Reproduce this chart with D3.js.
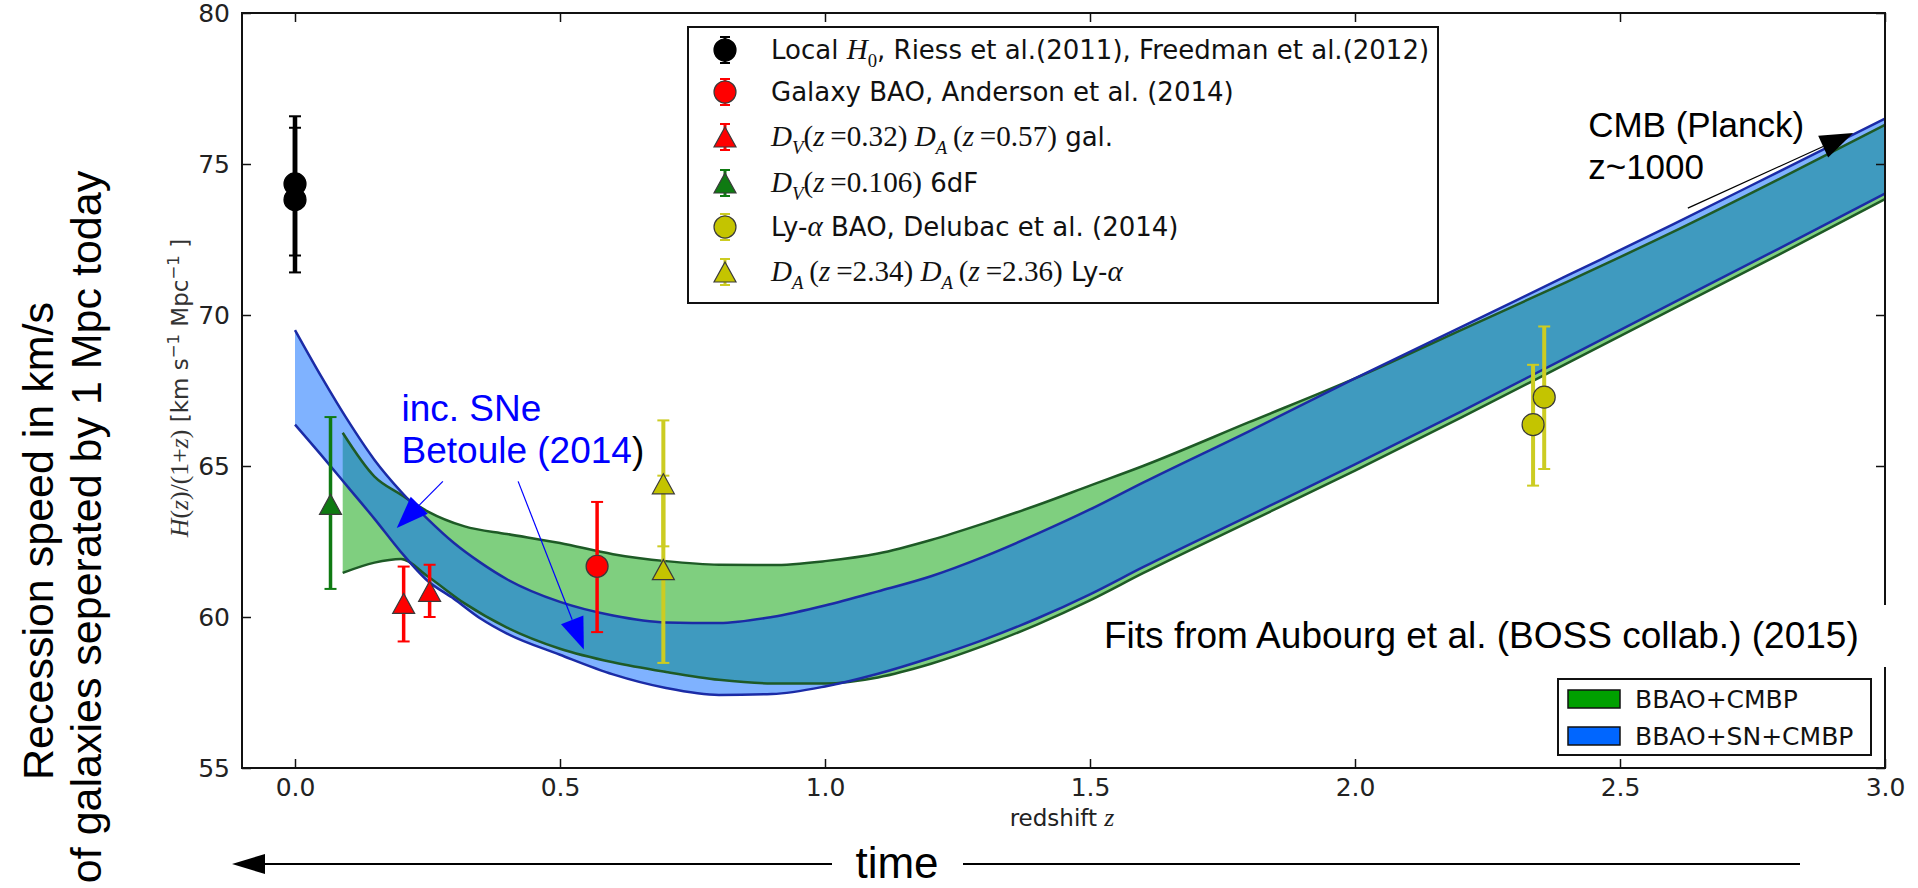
<!DOCTYPE html>
<html>
<head>
<meta charset="utf-8">
<script src="https://cdn.jsdelivr.net/npm/d3@7"></script>
<style>
  html, body { margin: 0; padding: 0; background: #fff; }
  svg { display: block; }
  .tick text { font-family: "DejaVu Sans", sans-serif; font-size: 25px; fill: #222; }
  .tick line { stroke: #111; stroke-width: 1.5; }
</style>
</head>
<body>
<svg id="chart" width="1918" height="888"></svg>
<script>
// fit bands, H(z)/(1+z) upper / lower edge per redshift
var blueZ  = [0, 0.05, 0.1, 0.15, 0.2, 0.25, 0.3, 0.35, 0.4, 0.5, 0.6, 0.7, 0.8, 0.9, 1.0, 1.1, 1.2, 1.3, 1.4, 1.5, 1.6, 1.8, 2.0, 2.2, 2.4, 2.6, 2.8, 3.0];
var blueHi = [69.5, 67.95, 66.5, 65.2, 64.15, 63.25, 62.45, 61.8, 61.25, 60.5, 60.05, 59.82, 59.8, 60.0, 60.38, 60.85, 61.35, 62.0, 62.75, 63.56, 64.45, 66.15, 67.9, 69.6, 71.3, 73.0, 74.75, 76.5];
var blueLo = [66.37, 65.35, 64.3, 63.25, 62.15, 61.2, 60.6, 59.95, 59.45, 58.75, 58.1, 57.65, 57.42, 57.45, 57.7, 58.12, 58.65, 59.25, 59.95, 60.75, 61.65, 63.35, 65.05, 66.8, 68.6, 70.4, 72.2, 74.02];

var greenZ  = [0.09, 0.15, 0.2, 0.25, 0.32, 0.4, 0.5, 0.6, 0.7, 0.8, 0.9, 1.0, 1.1, 1.2, 1.3, 1.4, 1.5, 1.6, 1.8, 2.0, 2.2, 2.4, 2.6, 2.8, 3.0];
var greenHi = [66.1, 64.65, 64.05, 63.5, 63.0, 62.75, 62.45, 62.08, 61.85, 61.73, 61.72, 61.85, 62.1, 62.55, 63.1, 63.7, 64.35, 65.0, 66.45, 67.9, 69.5, 71.1, 72.75, 74.5, 76.3];
var greenLo = [61.46, 61.8, 61.92, 61.35, 60.45, 59.65, 58.95, 58.5, 58.18, 57.92, 57.8, 57.8, 58.0, 58.45, 59.05, 59.75, 60.55, 61.45, 63.15, 64.85, 66.6, 68.4, 70.2, 72.0, 73.84];

// measurements: [z, value, errLow, errHigh]
var localH0   = [[0, 74.34, 71.97, 76.58], [0, 73.82, 71.41, 76.20]];
var galaxyBAO = [[0.57, 61.68, 59.50, 63.81]];
var galaxyDvDa = [[0.205, 60.45, 59.19, 61.67], [0.254, 60.85, 60.00, 61.73]];
var sixdF     = [[0.067, 63.73, 60.93, 66.62]];
var lyaBAO    = [[2.336, 66.37, 64.35, 68.35], [2.357, 67.28, 64.90, 69.62]];
var lyaDa     = [[0.695, 64.41, 62.34, 66.51], [0.695, 61.57, 58.48, 64.68]];

var xTicks = [0, 0.5, 1.0, 1.5, 2.0, 2.5, 3.0];
var yTicks = [55, 60, 65, 70, 75, 80];
var bandNames = ['BBAO+CMBP', 'BBAO+SN+CMBP'];

var svg = d3.select('#chart');
var x = d3.scaleLinear().domain([-0.1, 3.0]).range([242, 1885]);
var y = d3.scaleLinear().domain([55, 80]).range([768, 13]);

var SANS = '"Liberation Sans", Arial, sans-serif';
var MPL = '"DejaVu Sans", sans-serif';
var SERIF = '"Liberation Serif", "DejaVu Serif", serif';

svg.append('rect').attr('width', 1918).attr('height', 888).attr('fill', '#fff');

svg.append('clipPath').attr('id', 'plotclip')
  .append('rect').attr('x', 242).attr('y', 13).attr('width', 1643).attr('height', 755);

var plot = svg.append('g').attr('clip-path', 'url(#plotclip)');

var area = d3.area()
  .x(function(d) { return x(d[0]); })
  .y0(function(d) { return y(d[1]); })
  .y1(function(d) { return y(d[2]); })
  .curve(d3.curveMonotoneX);
var edge = function(i) {
  return d3.line()
    .x(function(d) { return x(d[0]); })
    .y(function(d) { return y(d[i]); })
    .curve(d3.curveMonotoneX);
};

var greenData = d3.zip(greenZ, greenLo, greenHi);
var blueData = d3.zip(blueZ, blueLo, blueHi);

plot.append('path').datum(greenData).attr('d', area)
  .attr('fill', '#00a000').attr('fill-opacity', 0.5);
plot.append('path').datum(blueData).attr('d', area)
  .attr('fill', '#0066ff').attr('fill-opacity', 0.5);
[1, 2].forEach(function(i) {
  plot.append('path').datum(greenData).attr('d', edge(i))
    .attr('fill', 'none').attr('stroke', '#1e5a26').attr('stroke-width', 2.5);
});
[1, 2].forEach(function(i) {
  plot.append('path').datum(blueData).attr('d', edge(i))
    .attr('fill', 'none').attr('stroke', '#1b2ba6').attr('stroke-width', 2.5);
});

// axes
var axB = svg.append('g').attr('transform', 'translate(0,768)')
  .call(d3.axisBottom(x).tickValues(xTicks).tickFormat(d3.format('.1f'))
    .tickSizeInner(-9).tickSizeOuter(0).tickPadding(10));
var axT = svg.append('g').attr('transform', 'translate(0,13)')
  .call(d3.axisTop(x).tickValues(xTicks).tickFormat('').tickSizeInner(-9).tickSizeOuter(0));
var axL = svg.append('g').attr('transform', 'translate(242,0)')
  .call(d3.axisLeft(y).tickValues(yTicks).tickFormat(d3.format('d'))
    .tickSizeInner(-9).tickSizeOuter(0).tickPadding(12));
var axR = svg.append('g').attr('transform', 'translate(1885,0)')
  .call(d3.axisRight(y).tickValues(yTicks).tickFormat('').tickSizeInner(-9).tickSizeOuter(0));
[axB, axT, axL, axR].forEach(function(a) { a.select('.domain').remove(); });

svg.append('rect').attr('x', 242).attr('y', 13).attr('width', 1643).attr('height', 755)
  .attr('fill', 'none').attr('stroke', '#111').attr('stroke-width', 2);

// markers
function triPath(w, h) {
  return 'M0,' + (-h) + 'L' + w + ',' + h + 'L' + (-w) + ',' + h + 'Z';
}
function drawMarker(g, shape, fill, stroke) {
  if (shape === 'circle') {
    g.append('circle').attr('r', 11).attr('fill', fill).attr('stroke', stroke).attr('stroke-width', 1.2);
  } else {
    g.append('path').attr('d', triPath(11, 10)).attr('fill', fill)
      .attr('stroke', stroke).attr('stroke-width', 1.2);
  }
}
function drawSeries(rows, shape, fill, errColor, lw) {
  var g = svg.append('g');
  rows.forEach(function(r) {
    var cx = x(r[0]);
    g.append('line').attr('x1', cx).attr('x2', cx).attr('y1', y(r[2])).attr('y2', y(r[3]))
      .attr('stroke', errColor).attr('stroke-width', lw);
    [r[2], r[3]].forEach(function(v) {
      g.append('line').attr('x1', cx - 6).attr('x2', cx + 6).attr('y1', y(v)).attr('y2', y(v))
        .attr('stroke', errColor).attr('stroke-width', 2);
    });
  });
  rows.forEach(function(r) {
    var m = g.append('g').attr('transform', 'translate(' + x(r[0]) + ',' + y(r[1]) + ')');
    drawMarker(m, shape, fill, fill === '#000' ? '#000' : '#3a3a3a');
  });
}
drawSeries(sixdF, 'tri', '#0f7a12', '#0f7a12', 3.5);
drawSeries(galaxyDvDa, 'tri', '#ff0000', '#ff0000', 3.5);
drawSeries(galaxyBAO, 'circle', '#ff0000', '#ff0000', 3.5);
drawSeries(lyaDa, 'tri', '#c4c400', '#cccc22', 4);
drawSeries(lyaBAO, 'circle', '#c4c400', '#cccc22', 4);
drawSeries(localH0, 'circle', '#000', '#000', 4.5);

// rich text helper: [text, style]  s = sans, i = serif italic, r = serif, sub / subi / sup
function rich(t, parts, base) {
  var shift = 0;
  parts.forEach(function(p) {
    var ts = t.append('tspan').text(p[0]);
    var st = p[1], want = 0;
    if (st === 'i' || st === 'subi') ts.attr('font-family', SERIF).attr('font-style', 'italic');
    if (st === 'r' || st === 'sub') ts.attr('font-family', SERIF);
    if (st === 'i' || st === 'r') ts.attr('font-size', base * 1.12);
    if (st === 'sub' || st === 'subi') { want = base * 0.3; ts.attr('font-size', base * 0.72); }
    if (st === 'sup') { want = -base * 0.4; ts.attr('font-size', base * 0.72); }
    if (want !== shift) { ts.attr('dy', want - shift); shift = want; }
  });
}

// top legend
var legendLabels = [
  [['Local ', 's'], ['H', 'i'], ['0', 'sub'], [', Riess et al.(2011), Freedman et al.(2012)', 's']],
  [['Galaxy BAO, Anderson et al. (2014)', 's']],
  [['D', 'i'], ['V', 'subi'], ['(', 'r'], ['z', 'i'], ['\u2009=0.32) ', 'r'], ['D', 'i'], ['A', 'subi'], ['\u2009(', 'r'], ['z', 'i'], ['\u2009=0.57)', 'r'], [' gal.', 's']],
  [['D', 'i'], ['V', 'subi'], ['(', 'r'], ['z', 'i'], ['\u2009=0.106)', 'r'], [' 6dF', 's']],
  [['Ly-', 's'], ['α', 'i'], [' BAO, Delubac et al. (2014)', 's']],
  [['D', 'i'], ['A', 'subi'], ['\u2009(', 'r'], ['z', 'i'], ['\u2009=2.34) ', 'r'], ['D', 'i'], ['A', 'subi'], ['\u2009(', 'r'], ['z', 'i'], ['\u2009=2.36)', 'r'], [' Ly-', 's'], ['α', 'i']]
];
var legendMarks = [
  ['circle', '#000', '#000'], ['circle', '#ff0000', '#ff0000'], ['tri', '#ff0000', '#ff0000'],
  ['tri', '#0f7a12', '#0f7a12'], ['circle', '#c4c400', '#cccc22'], ['tri', '#c4c400', '#cccc22']
];
var rowY = [50, 92, 137, 183, 227, 272];
var leg = svg.append('g');
leg.append('rect').attr('x', 688).attr('y', 27).attr('width', 750).attr('height', 276)
  .attr('fill', '#fff').attr('stroke', '#111').attr('stroke-width', 2);
legendLabels.forEach(function(lab, i) {
  var cy = rowY[i];
  var mk = legendMarks[i];
  leg.append('line').attr('x1', 725).attr('x2', 725).attr('y1', cy - 13).attr('y2', cy + 13)
    .attr('stroke', mk[2]).attr('stroke-width', 3);
  [cy - 13, cy + 13].forEach(function(v) {
    leg.append('line').attr('x1', 720).attr('x2', 730).attr('y1', v).attr('y2', v)
      .attr('stroke', mk[2]).attr('stroke-width', 2);
  });
  var m = leg.append('g').attr('transform', 'translate(725,' + cy + ')');
  drawMarker(m, mk[0], mk[1], mk[1] === '#000' ? '#000' : '#3a3a3a');
  var t = leg.append('text').attr('x', 771).attr('y', cy + 9)
    .attr('font-family', MPL).attr('font-size', 26).attr('fill', '#111');
  rich(t, lab, 26);
});

// band legend
var bandColors = ['#00a000', '#0066ff'];
var leg2 = svg.append('g');
leg2.append('rect').attr('x', 1558).attr('y', 679).attr('width', 313).attr('height', 76)
  .attr('fill', '#fff').attr('stroke', '#111').attr('stroke-width', 2);
bandNames.forEach(function(name, i) {
  var cy = 699 + i * 37;
  leg2.append('rect').attr('x', 1568).attr('y', cy - 9).attr('width', 52).attr('height', 18)
    .attr('fill', bandColors[i]).attr('stroke', '#111').attr('stroke-width', 1.5);
  leg2.append('text').attr('x', 1635).attr('y', cy + 9).attr('font-family', MPL)
    .attr('font-size', 25).attr('fill', '#111').text(name);
});

// axis labels
var xl = svg.append('text').attr('x', 1062).attr('y', 826).attr('text-anchor', 'middle')
  .attr('font-family', MPL).attr('font-size', 23).attr('fill', '#222');
rich(xl, [['redshift ', 's'], ['z', 'i']], 23);

var yl = svg.append('text').attr('transform', 'translate(188,388) rotate(-90)')
  .attr('text-anchor', 'middle').attr('font-family', MPL).attr('font-size', 23).attr('fill', '#333');
rich(yl, [['H', 'i'], ['(', 'r'], ['z', 'i'], [')/(1+', 'r'], ['z', 'i'], [')', 'r'],
  [' [km s', 's'], ['−1', 'sup'], [' Mpc', 's'], ['−1', 'sup'], [' ]', 's']], 23);

// annotations
function arrow(g, x1, y1, x2, y2, len, wid, color, lw) {
  var dx = x2 - x1, dy = y2 - y1, d = Math.sqrt(dx * dx + dy * dy);
  var ux = dx / d, uy = dy / d;
  var bx = x2 - ux * len, by = y2 - uy * len;
  g.append('line').attr('x1', x1).attr('y1', y1).attr('x2', bx).attr('y2', by)
    .attr('stroke', color).attr('stroke-width', lw);
  g.append('path').attr('fill', color)
    .attr('d', 'M' + x2 + ',' + y2 + 'L' + (bx - uy * wid / 2) + ',' + (by + ux * wid / 2) +
      'L' + (bx + uy * wid / 2) + ',' + (by - ux * wid / 2) + 'Z');
}
var ann = svg.append('g');

// supernova note
ann.append('text').attr('x', x(0.201)).attr('y', y(66.48))
  .attr('font-family', SANS).attr('font-size', 37).attr('fill', '#0000ff').text('inc. SNe');
var sn2 = ann.append('text').attr('x', x(0.201)).attr('y', y(65.1))
  .attr('font-family', SANS).attr('font-size', 37).attr('fill', '#0000ff');
sn2.append('tspan').text('Betoule (2014');
sn2.append('tspan').attr('fill', '#000').text(')');
arrow(ann, x(0.279), y(64.49), x(0.192), y(62.95), 32, 24, '#0000ff', 1.2);
arrow(ann, x(0.421), y(64.49), x(0.545), y(58.92), 32, 24, '#0000ff', 1.2);

// CMB note
ann.append('text').attr('x', x(2.44)).attr('y', y(75.9))
  .attr('font-family', SANS).attr('font-size', 35).attr('fill', '#000').text('CMB (Planck)');
ann.append('text').attr('x', x(2.44)).attr('y', y(74.51))
  .attr('font-family', SANS).attr('font-size', 35).attr('fill', '#000').text('z~1000');
arrow(ann, x(2.628), y(73.54), x(2.94), y(76.03), 33, 24, '#000', 1.2);

// fits note with white box
ann.append('rect').attr('x', 1095).attr('y', 605).attr('width', 823).attr('height', 62).attr('fill', '#fff');
ann.append('text').attr('x', 1104).attr('y', 648)
  .attr('font-family', SANS).attr('font-size', 37).attr('fill', '#000')
  .text('Fits from Aubourg et al. (BOSS collab.) (2015)');

// left explanatory label
ann.append('text').attr('transform', 'translate(53,541) rotate(-90)').attr('text-anchor', 'middle')
  .attr('font-family', SANS).attr('font-size', 43).attr('fill', '#000').text('Recession speed in km/s');
ann.append('text').attr('transform', 'translate(101,527) rotate(-90)').attr('text-anchor', 'middle')
  .attr('font-family', SANS).attr('font-size', 43).attr('fill', '#000').text('of galaxies seperated by 1 Mpc today');

// time arrow
arrow(ann, 832, 864, 232, 864, 33, 20, '#000', 2);
ann.append('line').attr('x1', 963).attr('x2', 1800).attr('y1', 864).attr('y2', 864)
  .attr('stroke', '#000').attr('stroke-width', 2);
ann.append('text').attr('x', 897).attr('y', 878).attr('text-anchor', 'middle')
  .attr('font-family', SANS).attr('font-size', 44).attr('fill', '#000').text('time');
</script>
</body>
</html>
